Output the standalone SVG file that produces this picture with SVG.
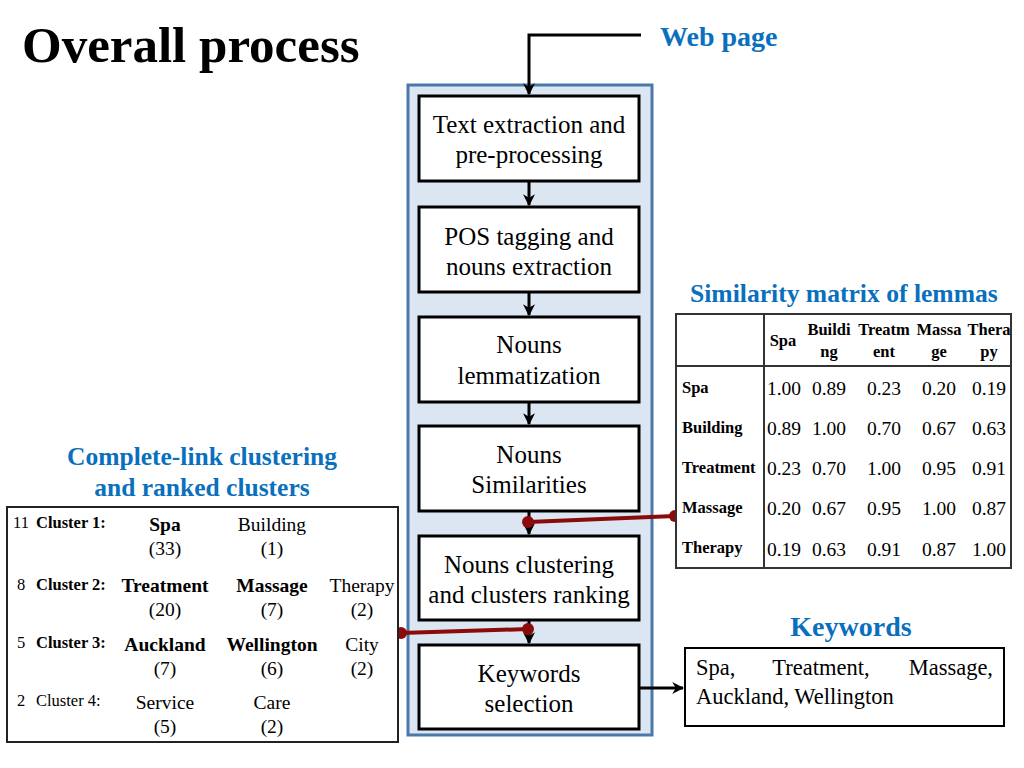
<svg xmlns="http://www.w3.org/2000/svg" width="1024" height="768" viewBox="0 0 1024 768" font-family="'Liberation Serif', serif">
<defs>
<style>
text{font-family:"Liberation Serif",serif;fill:#000}
.b{font-weight:bold}
.blue{fill:#0A70BE;font-weight:bold}
.box{fill:#fff;stroke:#000;stroke-width:3}
.step{font-size:25px;text-anchor:middle}
.ln{stroke:#000;stroke-width:3;fill:none}
.red{stroke:#8B0A0A;stroke-width:4;fill:none}
.dot{fill:#8B0A0A}
.hd{font-size:16.5px;font-weight:bold;text-anchor:middle}
.rl{font-size:16.5px;font-weight:bold}
.v{font-size:19.5px;text-anchor:middle}
.cw{font-size:19.5px;text-anchor:middle}
.cl{font-size:16.5px}
</style>
<marker id="ah" viewBox="0 0 10 10" refX="9" refY="5" markerWidth="4" markerHeight="4" orient="auto" markerUnits="strokeWidth">
<path d="M0,0 L10,5 L0,10 L3,5 z" fill="#000"/>
</marker>
</defs>
<rect width="1024" height="768" fill="#fff"/>
<text class="b" x="22" y="62" font-size="51">Overall process</text>
<text class="blue" x="660" y="46" font-size="28">Web page</text>

<g id="container">
<rect x="408" y="85" width="244" height="650" fill="#DCE6F2" stroke="#4A78AA" stroke-width="3"/>
</g>

<g id="connectors">
<polyline class="ln" points="641,35 529,35 529,94" marker-end="url(#ah)"/>
<line class="ln" x1="529" y1="182" x2="529" y2="205" marker-end="url(#ah)"/>
<line class="ln" x1="529" y1="293" x2="529" y2="315" marker-end="url(#ah)"/>
<line class="ln" x1="529" y1="403" x2="529" y2="424" marker-end="url(#ah)"/>
<line class="ln" x1="529" y1="512" x2="529" y2="534" marker-end="url(#ah)"/>
<line class="ln" x1="529" y1="621" x2="529" y2="643" marker-end="url(#ah)"/>
<line class="ln" x1="640" y1="688" x2="683" y2="688" marker-end="url(#ah)"/>
<line class="red" x1="528" y1="522" x2="675" y2="516"/>
<circle class="dot" cx="528" cy="522" r="6"/>
<circle class="dot" cx="675" cy="516" r="6"/>
<line class="red" x1="401" y1="633" x2="528" y2="629"/>
<circle class="dot" cx="401" cy="633" r="6"/>
<circle class="dot" cx="528" cy="629" r="6"/>
</g>

<g id="step1">
<rect class="box" x="419" y="96" width="220" height="85"/>
<text class="step" x="529" y="133">Text extraction and</text>
<text class="step" x="529" y="163">pre-processing</text>
</g>
<g id="step2">
<rect class="box" x="419" y="207" width="220" height="85"/>
<text class="step" x="529" y="245">POS tagging and</text>
<text class="step" x="529" y="275">nouns extraction</text>
</g>
<g id="step3">
<rect class="box" x="419" y="317" width="220" height="85"/>
<text class="step" x="529" y="353">Nouns</text>
<text class="step" x="529" y="384">lemmatization</text>
</g>
<g id="step4">
<rect class="box" x="419" y="426" width="220" height="85"/>
<text class="step" x="529" y="463">Nouns</text>
<text class="step" x="529" y="493">Similarities</text>
</g>
<g id="step5">
<rect class="box" x="419" y="536" width="220" height="84"/>
<text class="step" x="529" y="573">Nouns clustering</text>
<text class="step" x="529" y="603">and clusters ranking</text>
</g>
<g id="step6">
<rect class="box" x="419" y="645" width="220" height="84"/>
<text class="step" x="529" y="682">Keywords</text>
<text class="step" x="529" y="712">selection</text>
</g>

<g id="matrix">
<text class="blue" x="690" y="302" font-size="25.6">Similarity matrix of lemmas</text>
<rect x="676" y="314" width="335" height="254" fill="#fff" stroke="#333" stroke-width="2"/>
<line x1="676" y1="366" x2="1011" y2="366" stroke="#333" stroke-width="2"/>
<line x1="764" y1="314" x2="764" y2="568" stroke="#333" stroke-width="2"/>
<text class="hd" x="783" y="346">Spa</text>
<text class="hd" x="829" y="335">Buildi</text><text class="hd" x="829" y="357">ng</text>
<text class="hd" x="884" y="335">Treatm</text><text class="hd" x="884" y="357">ent</text>
<text class="hd" x="939" y="335">Massa</text><text class="hd" x="939" y="357">ge</text>
<text class="hd" x="989" y="335">Thera</text><text class="hd" x="989" y="357">py</text>
<text class="rl" x="682" y="393">Spa</text>
<text class="rl" x="682" y="433">Building</text>
<text class="rl" x="682" y="473">Treatment</text>
<text class="rl" x="682" y="513">Massage</text>
<text class="rl" x="682" y="553">Therapy</text>
<g>
<text class="v" x="784" y="395">1.00</text><text class="v" x="829" y="395">0.89</text><text class="v" x="884" y="395">0.23</text><text class="v" x="939" y="395">0.20</text><text class="v" x="989" y="395">0.19</text>
<text class="v" x="784" y="435">0.89</text><text class="v" x="829" y="435">1.00</text><text class="v" x="884" y="435">0.70</text><text class="v" x="939" y="435">0.67</text><text class="v" x="989" y="435">0.63</text>
<text class="v" x="784" y="475">0.23</text><text class="v" x="829" y="475">0.70</text><text class="v" x="884" y="475">1.00</text><text class="v" x="939" y="475">0.95</text><text class="v" x="989" y="475">0.91</text>
<text class="v" x="784" y="515">0.20</text><text class="v" x="829" y="515">0.67</text><text class="v" x="884" y="515">0.95</text><text class="v" x="939" y="515">1.00</text><text class="v" x="989" y="515">0.87</text>
<text class="v" x="784" y="556">0.19</text><text class="v" x="829" y="556">0.63</text><text class="v" x="884" y="556">0.91</text><text class="v" x="939" y="556">0.87</text><text class="v" x="989" y="556">1.00</text>
</g>
</g>

<g id="clusters">
<text class="blue" x="202" y="465" font-size="25.5" text-anchor="middle">Complete-link clustering</text>
<text class="blue" x="202" y="496" font-size="25.5" text-anchor="middle">and ranked clusters</text>
<rect x="7" y="507" width="391" height="235" fill="#fff" stroke="#222" stroke-width="2"/>
<text class="cl" x="13" y="528">11</text>
<text class="cl b" x="36" y="528">Cluster 1:</text>
<text class="cw b" x="165" y="531">Spa</text><text class="cw" x="165" y="555">(33)</text>
<text class="cw" x="272" y="531">Building</text><text class="cw" x="272" y="555">(1)</text>
<text class="cl" x="17" y="590">8</text>
<text class="cl b" x="36" y="590">Cluster 2:</text>
<text class="cw b" x="165" y="592">Treatment</text><text class="cw" x="165" y="616">(20)</text>
<text class="cw b" x="272" y="592">Massage</text><text class="cw" x="272" y="616">(7)</text>
<text class="cw" x="362" y="592">Therapy</text><text class="cw" x="362" y="616">(2)</text>
<text class="cl" x="17" y="648">5</text>
<text class="cl b" x="36" y="648">Cluster 3:</text>
<text class="cw b" x="165" y="651">Auckland</text><text class="cw" x="165" y="675">(7)</text>
<text class="cw b" x="272" y="651">Wellington</text><text class="cw" x="272" y="675">(6)</text>
<text class="cw" x="362" y="651">City</text><text class="cw" x="362" y="675">(2)</text>
<text class="cl" x="17" y="706">2</text>
<text class="cl" x="36" y="706">Cluster 4:</text>
<text class="cw" x="165" y="709">Service</text><text class="cw" x="165" y="733">(5)</text>
<text class="cw" x="272" y="709">Care</text><text class="cw" x="272" y="733">(2)</text>
</g>

<g id="keywords">
<text class="blue" x="851" y="636" font-size="28" text-anchor="middle">Keywords</text>
<rect x="685" y="648" width="319" height="78" fill="#fff" stroke="#000" stroke-width="2"/>
<text x="696" y="675" font-size="22.5">Spa,</text>
<text x="821" y="675" font-size="22.5" text-anchor="middle">Treatment,</text>
<text x="993" y="675" font-size="22.5" text-anchor="end">Massage,</text>
<text x="696" y="704" font-size="22.5">Auckland, Wellington</text>
</g>
</svg>
